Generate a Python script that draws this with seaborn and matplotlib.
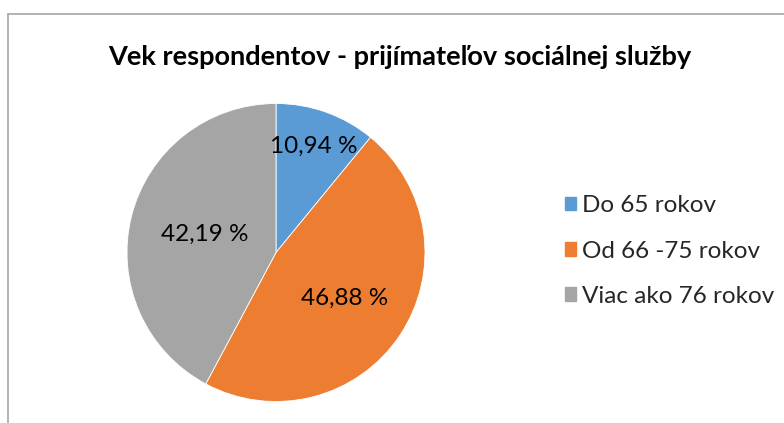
import matplotlib
matplotlib.use("Agg")
import matplotlib.pyplot as plt
import seaborn as sns
import numpy as np
from matplotlib.lines import Line2D

sns.set_theme(style="white")
plt.rcParams['font.family'] = ['Lato', 'DejaVu Sans']

# data
categories = ["Do 65 rokov", "Od 66 -75 rokov", "Viac ako 76 rokov"]
shares = [10.94, 46.88, 42.19]
colors = ["#5B9BD5", "#ED7D31", "#A5A5A5"]
title = "Vek respondentov - prijímateľov sociálnej služby"

W, H = 784, 423
fig = plt.figure(figsize=(W / 100, H / 100), dpi=100)
ax = fig.add_axes([0, 0, 1, 1])

cx, cy, r = 276, H - 252.5, 149
wedges, texts, autotexts = ax.pie(
    shares, colors=colors, startangle=90, counterclock=False,
    center=(cx, cy), radius=r, autopct=lambda p: "",
    wedgeprops=dict(edgecolor="white", linewidth=0.6),
    frame=True,
)
ax.set_xlim(0, W)
ax.set_ylim(0, H)
ax.set_aspect("equal")
ax.axis("off")

# value labels placed like Excel's best fit
label_dist = [0.76, 0.55, 0.49]
for w, v, d in zip(wedges, shares, label_dist):
    ang = np.deg2rad((w.theta1 + w.theta2) / 2)
    ax.text(cx + d * r * np.cos(ang), cy + d * r * np.sin(ang),
            f"{v:.2f} %".replace(".", ","), ha="center", va="center",
            fontsize=17.5, color="#000000")

fig.text(400 / W, 1 - 57 / H, title, ha="center", va="center",
         fontsize=19.5, fontweight="bold", color="#000000")

handles = [plt.Rectangle((0, 0), 1, 1, color=c) for c in colors]
fig.legend(handles, categories, loc="center left",
           bbox_to_anchor=(555 / W, 1 - 251 / H), frameon=False,
           fontsize=17.5, handlelength=0.47, handleheight=0.47,
           handletextpad=0.25, labelspacing=1.0, borderaxespad=0)

# chart frame
fig.add_artist(Line2D([7.5 / W, 7.5 / W], [0, 1 - 14 / H], color="#A6A6A6", lw=1.2))
fig.add_artist(Line2D([7.5 / W, 1], [1 - 14 / H, 1 - 14 / H], color="#A6A6A6", lw=1.2))

fig.savefig("out.png", dpi=100, facecolor="white")
